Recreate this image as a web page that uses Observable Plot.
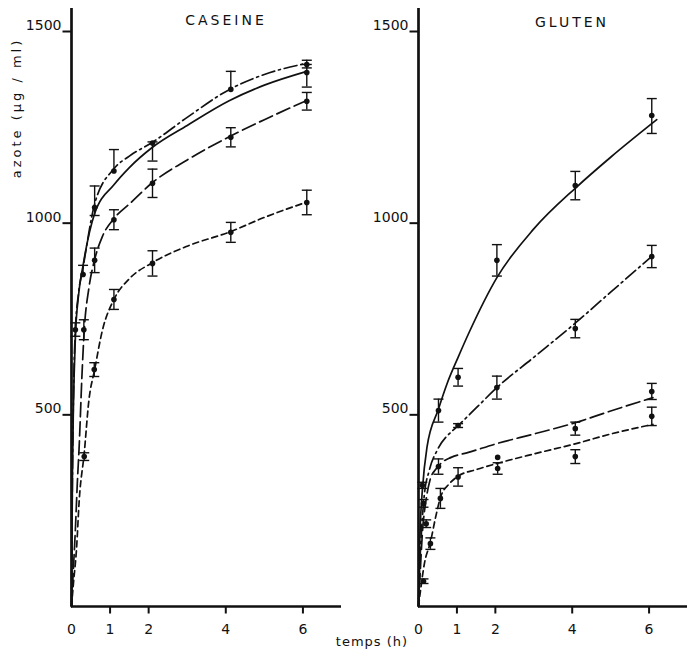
<!DOCTYPE html>
<html><head><meta charset="utf-8">
<script src="https://cdn.jsdelivr.net/npm/d3@7"></script>
<script src="https://cdn.jsdelivr.net/npm/@observablehq/plot@0.6"></script>
<style>
body{margin:0;background:#fff;}
#wrap{position:relative;width:687px;height:655px;font-family:"DejaVu Sans",sans-serif;color:#111;overflow:hidden;}
.panel{position:absolute;top:0;}
.panel svg{max-width:none !important;}
.lbl{position:absolute;white-space:nowrap;transform:translate(-50%,-50%);font-size:14px;letter-spacing:3px;line-height:1;}
</style></head><body>
<div id="wrap">
  <div id="left" class="panel" style="left:0;width:343px"></div>
  <div id="right" class="panel" style="left:343px;width:344px"></div>
  <div class="lbl" style="left:226px;top:20px">CASEINE</div>
  <div class="lbl" style="left:572px;top:22px">GLUTEN</div>
  <div class="lbl" style="left:16px;top:108px;transform:translate(-50%,-50%) rotate(-90deg);font-size:13px;letter-spacing:3px">azote (µg / ml)</div>
  <div class="lbl" style="left:372px;top:641px;font-size:13px;letter-spacing:1px">temps (h)</div>
</div>
<script>
// ---------- data (t in hours, azote in µg/ml) ----------
const yTicks = [500, 1000, 1500];
const xTicks = [0, 1, 2, 4, 6];

// CASEINE fitted curves
const caseineSolid = [[0,0],[0.01,150],[0.025,350],[0.05,520],[0.1,700],[0.18,810],[0.3,890],[0.6,1025],[1.1,1100],[1.5,1145],[2.1,1198],[3,1255],[4.1,1320],[5,1360],[6.1,1396]];
const caseineDashDot = [[0,0],[0.01,170],[0.03,400],[0.06,600],[0.1,720],[0.18,815],[0.3,885],[0.6,1050],[1.1,1142],[1.5,1175],[2.1,1211],[3,1276],[4.1,1349],[5,1388],[6.1,1417]];
const caseineLongDash = [[0,0],[0.04,80],[0.1,200],[0.15,320],[0.2,420],[0.27,600],[0.33,720],[0.45,830],[0.6,905],[0.8,965],[1.1,1012],[1.5,1050],[2.1,1106],[3,1165],[4.1,1226],[5,1270],[6.1,1320]];
const caseineShortDash = [[0,0],[0.05,60],[0.13,150],[0.2,277],[0.33,400],[0.45,537],[0.6,618],[0.8,720],[1.1,801],[1.5,855],[2.1,897],[3,940],[4.1,977],[5,1015],[6.1,1055]];
// CASEINE measurements: [t, mean, low, high]
const caseinePoints = [
  [0.1,722,705,740],[0.3,866,866,890],[0.32,722,696,748],[0.33,391,381,401],
  [0.6,1041,1020,1097],[0.6,903,871,935],[0.59,618,600,636],
  [1.1,1136,1136,1192],[1.1,1009,983,1035],[1.1,801,775,827],
  [2.1,1209,1162,1212],[2.1,1104,1067,1141],[2.1,895,862,928],
  [4.13,1349,1349,1396],[4.13,1224,1199,1249],[4.13,976,950,1002],
  [6.1,1414,1405,1425],[6.1,1393,1355,1414],[6.1,1318,1295,1341],[6.1,1054,1022,1086]
];

// GLUTEN fitted curves
const glutenSolid = [[0,0],[0.02,120],[0.05,220],[0.1,303],[0.22,415],[0.52,515],[0.75,583],[1.03,650],[1.34,720],[2.04,858],[3,985],[4.1,1093],[5,1172],[6.2,1270]];
const glutenDashDot = [[0,0],[0.03,100],[0.08,200],[0.15,290],[0.28,355],[0.5,410],[0.9,460],[1.03,472],[1.5,518],[2.04,571],[3,650],[4.1,741],[5,820],[6.1,916]];
const glutenLongDash = [[0,0],[0.04,80],[0.1,190],[0.2,280],[0.3,330],[0.45,358],[0.6,375],[0.85,389],[1.3,402],[2.04,425],[3,450],[4.1,480],[5,510],[6.1,545]];
const glutenShortDash = [[0,0],[0.05,40],[0.15,110],[0.31,168],[0.45,235],[0.57,284],[0.8,320],[1.03,340],[1.5,357],[2.04,373],[3,398],[4.1,425],[5,450],[6.1,475]];
// GLUTEN measurements: [t, mean, low, high]
const glutenPoints = [
  [0.1,316,308,324],[0.13,269,259,279],[0.2,216,206,226],[0.31,164,149,179],[0.13,66,60,72],
  [0.52,511,481,541],[0.52,365,345,385],[0.57,282,256,308],
  [1.03,598,575,621],[1.03,472,467,477],[1.03,338,314,362],
  [2.04,903,862,944],[2.04,571,541,601],[2.06,389,389,389],[2.06,360,345,375],
  [4.08,1098,1061,1135],[4.08,725,701,749],[4.08,464,447,481],[4.08,391,373,409],
  [6.07,1281,1234,1325],[6.07,913,884,942],[6.07,561,540,582],[6.07,496,472,520]
];

// ---------- styles ----------
const ink = "#111";
const dashes = {solid: null, dashDot: "13,4,2,4", longDash: "14,5", shortDash: "6,4"};
const hbar = {draw(ctx, size) { const r = Math.sqrt(size / Math.PI); ctx.moveTo(-r, 0); ctx.lineTo(r, 0); }};
const tickLeft = {draw(ctx) { ctx.moveTo(-9, 0); ctx.lineTo(0, 0); }};
const tickDown = {draw(ctx) { ctx.moveTo(0, 0); ctx.lineTo(0, 7); }};

function panel(curves, pts, marginLeft, marginRight, width) {
  return Plot.plot({
    width, height: 655,
    marginLeft, marginRight, marginTop: 8, marginBottom: 49,
    x: {domain: [0, 7], axis: null},
    y: {domain: [0, 1560], axis: null},
    style: {fontFamily: "DejaVu Sans", fontSize: "14px", color: ink, background: "transparent", overflow: "visible"},
    marks: [
      ...curves.map(([data, key]) => Plot.line(data, {
        x: d => d[0], y: d => d[1], curve: "monotone-x",
        stroke: ink, strokeWidth: 1.7, strokeDasharray: dashes[key]
      })),
      Plot.ruleX(pts.filter(d => d[3] > d[2]), {x: d => d[0], y1: d => d[2], y2: d => d[3], stroke: ink, strokeWidth: 1.4}),
      Plot.dot(pts.filter(d => d[2] < d[1]), {x: d => d[0], y: d => d[2], symbol: hbar, r: 5, stroke: ink, strokeWidth: 1.4, fill: "none"}),
      Plot.dot(pts.filter(d => d[3] > d[1]), {x: d => d[0], y: d => d[3], symbol: hbar, r: 5, stroke: ink, strokeWidth: 1.4, fill: "none"}),
      Plot.dot(pts, {x: d => d[0], y: d => d[1], r: 2.8, fill: ink, stroke: null}),
      Plot.ruleX([0], {y1: 0, y2: 1560, stroke: ink, strokeWidth: 2.7}),
      Plot.ruleY([0], {x1: 0, x2: 7, stroke: ink, strokeWidth: 2.6}),
      Plot.dot(yTicks, {x: () => 0, y: d => d, symbol: tickLeft, stroke: ink, strokeWidth: 2, fill: "none"}),
      Plot.text(yTicks, {x: () => 0, y: d => d, text: d => String(d), dx: -10, dy: -6, textAnchor: "end", fontSize: 14, fill: ink}),
      Plot.dot(xTicks.filter(d => d > 0), {x: d => d, y: () => 0, symbol: tickDown, stroke: ink, strokeWidth: 2, fill: "none"}),
      Plot.text(xTicks, {x: d => d, y: () => 0, text: d => String(d), dy: 23, fontSize: 14, fill: ink})
    ]
  });
}

document.getElementById("left").append(panel([
  [caseineSolid, "solid"], [caseineDashDot, "dashDot"], [caseineLongDash, "longDash"], [caseineShortDash, "shortDash"]
], caseinePoints, 71, 2, 343));

document.getElementById("right").append(panel([
  [glutenSolid, "solid"], [glutenDashDot, "dashDot"], [glutenLongDash, "longDash"], [glutenShortDash, "shortDash"]
], glutenPoints, 75, 0, 344));
</script>
</body></html>
